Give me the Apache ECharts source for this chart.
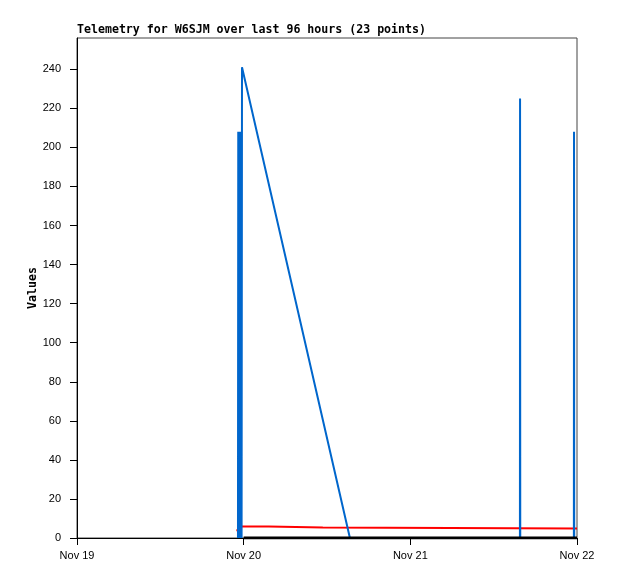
<!DOCTYPE html>
<html>
<head>
<meta charset="utf-8">
<script src="https://cdn.jsdelivr.net/npm/echarts@6/dist/echarts.min.js"></script>
<style>html,body{margin:0;padding:0;background:#fff}#c{width:618px;height:579px}</style>
</head>
<body>
<div id="c"></div>
<script>
// Start of x axis (UTC midnight, Nov 19)
var startMs = Date.UTC(2024, 10, 19);
var HOUR = 3600000;
var dayTicks = [0, 24, 48, 72];            // hours from start
var dayLabels = ['Nov 19', 'Nov 20', 'Nov 21', 'Nov 22'];
var yTicks = [0, 20, 40, 60, 80, 100, 120, 140, 160, 180, 200, 220, 240];

// Blue series (hours from start, value)
var blueHours  = [23.18, 23.22, 23.3, 23.36, 23.44, 23.5, 23.56, 23.62, 23.7, 23.76, 39.3, 63.78, 63.8, 63.83, 71.55, 71.57, 71.6];
var blueValues = [0,     208,   0,     208,   0,    208,   0,     208,   0,    241,   0,    0,     225,  0,     0,     208,   0];

// Red series
var redHours  = [22.95, 23.1, null, 23.65, 27.6, 27.6, 35.4, 35.4, 72];
var redValues = [4,     4,    null, 5.9,   5.9,  5.4,  5.4,  4.9,  4.9];

// Black series
var blackHours  = [24, 72];
var blackValues = [0, 0];

function pts(h, v) {
  return h.map(function (x, i) {
    return x === null ? [null, null] : [startMs + x * HOUR, v[i]];
  });
}

var chart = echarts.init(document.getElementById('c'), null, {renderer: 'canvas'});
var labelFont = {fontFamily: 'Liberation Sans', fontSize: 11, color: '#000'};
chart.setOption({
  animation: false,
  backgroundColor: '#fff',
  title: {
    text: 'Telemetry for W6SJM over last 96 hours (23 points)',
    left: 77, top: 24, padding: 0,
    textStyle: {fontFamily: 'DejaVu Sans Mono', fontWeight: 'bold', fontSize: 11.6, color: '#000'}
  },
  grid: {left: 77, right: 41, top: 38, bottom: 41, show: true, borderColor: '#444', borderWidth: 1, containLabel: false},
  xAxis: {
    type: 'value',
    min: startMs, max: startMs + 72 * HOUR, interval: 24 * HOUR,
    axisLine: {show: true, onZero: false, lineStyle: {color: '#000', width: 1}},
    axisTick: {show: true, length: 7, lineStyle: {color: '#000'},
      customValues: dayTicks.map(function (h) { return startMs + h * HOUR; })},
    axisLabel: Object.assign({margin: 12,
      customValues: dayTicks.map(function (h) { return startMs + h * HOUR; }),
      formatter: function (v) {
        var i = dayTicks.indexOf(Math.round((v - startMs) / HOUR));
        return i >= 0 ? dayLabels[i] : '';
      }}, labelFont),
    splitLine: {show: false}
  },
  yAxis: {
    type: 'value', min: 0, max: 256, interval: 20,
    name: 'Values', nameLocation: 'middle', nameGap: 38, nameRotate: 90, nameMoveOverlap: false,
    nameTextStyle: {fontFamily: 'DejaVu Sans Mono', fontWeight: 'bold', fontSize: 11.6, color: '#000'},
    axisLine: {show: true, lineStyle: {color: '#000', width: 1}},
    axisTick: {show: true, length: 7, lineStyle: {color: '#000'}, customValues: yTicks},
    axisLabel: Object.assign({margin: 16, customValues: yTicks}, labelFont),
    splitLine: {show: false}
  },
  series: [
    {type: 'line', data: pts(blueHours, blueValues), showSymbol: false, symbol: 'none',
      lineStyle: {color: '#0066cc', width: 2}, itemStyle: {color: '#0066cc'}, z: 3, connectNulls: false},
    {type: 'line', data: pts(redHours, redValues), showSymbol: false, symbol: 'none',
      lineStyle: {color: '#ff0000', width: 2}, itemStyle: {color: '#ff0000'}, z: 2, connectNulls: false},
    {type: 'line', data: pts(blackHours, blackValues), showSymbol: false, symbol: 'none',
      lineStyle: {color: '#000', width: 3}, itemStyle: {color: '#000'}, z: 4}
  ]
});
</script>
</body>
</html>
